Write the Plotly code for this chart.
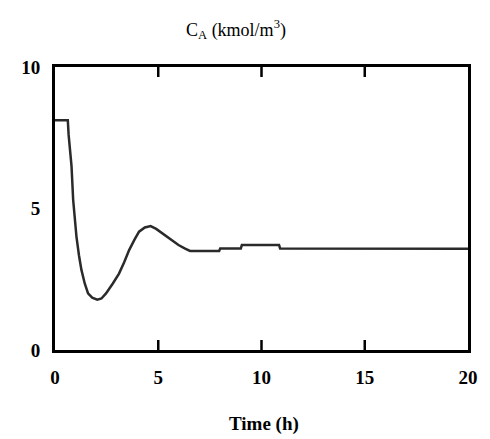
import plotly.graph_objects as go

time_h = [0, 0.62, 0.66, 0.74, 0.8, 0.88, 0.96, 1.04, 1.16, 1.28, 1.44, 1.6, 1.8, 2.05, 2.25, 2.47, 2.8, 3.1, 3.35, 3.59, 3.85, 4.07, 4.35, 4.63, 4.9, 5.18, 5.6, 5.98, 6.3, 6.54, 7.95, 8.0, 9.0, 9.05, 10.85, 10.9, 20]
ca = [8.12, 8.12, 7.6, 6.9, 6.5, 5.3, 4.6, 4.0, 3.35, 2.83, 2.35, 2.0, 1.85, 1.78, 1.82, 2.0, 2.35, 2.7, 3.1, 3.53, 3.9, 4.18, 4.33, 4.38, 4.28, 4.13, 3.92, 3.71, 3.58, 3.5, 3.5, 3.59, 3.59, 3.71, 3.71, 3.59, 3.58]

x_ticks = [0, 5, 10, 15, 20]
y_ticks = [0, 5, 10]

fig = go.Figure()
fig.add_trace(go.Scatter(x=time_h, y=ca, mode="lines",
                         line=dict(color="#2a2a2a", width=2.5), showlegend=False))

font = dict(family="Liberation Serif", color="black")

# inside tick marks on bottom and top edges, built from the tick list
y_lo, y_hi = y_ticks[0], y_ticks[-1]
tick_len = (y_hi - y_lo) * 10 / 283
tx, ty = [], []
for v in x_ticks[1:-1]:
    tx += [v, v, None, v, v, None]
    ty += [y_lo, y_lo + tick_len, None, y_hi - tick_len, y_hi, None]
fig.add_trace(go.Scatter(x=tx, y=ty, mode="lines", line=dict(color="black", width=2.5),
                         showlegend=False, hoverinfo="skip", cliponaxis=False))

fig.update_layout(
    width=490, height=439,
    margin=dict(l=55, r=17, t=67, b=89),
    plot_bgcolor="white", paper_bgcolor="white",
    font=font,
    xaxis=dict(range=[0, 20], tickmode="array", tickvals=x_ticks,
               ticktext=[f"<b>{v}</b>" for v in x_ticks], ticks="",
               showline=True, linewidth=3, linecolor="black", mirror=True,
               showgrid=False, zeroline=False, tickfont=dict(size=19, **font),
               ticklabelstandoff=8),
    yaxis=dict(range=[0, 10], tickmode="array", tickvals=y_ticks,
               ticktext=[f"<b>{v}</b>" for v in y_ticks],
               ticks="", showline=True, linewidth=3, linecolor="black", mirror=True,
               showgrid=False, zeroline=False, tickfont=dict(size=19, **font),
               ticklabelstandoff=8),
    annotations=[
        dict(text="C<sub>A</sub> (kmol/m<sup>3</sup>)", xref="paper", yref="paper",
             x=(238 - 55) / 418, y=1 + (67 - 30) / 283, xanchor="center", yanchor="middle",
             showarrow=False, font=dict(size=18, **font)),
        dict(text="<b>Time (h)</b>", xref="paper", yref="paper",
             x=(267 - 55) / 418, y=-(424 - 350) / 283, xanchor="center", yanchor="middle",
             showarrow=False, font=dict(size=19, **font)),
    ],
)

fig.write_html("out.html", config={"displayModeBar": False})
with open("out.html", encoding="utf-8") as f:
    html = f.read()
html = html.replace("<head>", "<head><style>html,body{margin:0;padding:0;}</style>", 1)
with open("out.html", "w", encoding="utf-8") as f:
    f.write(html)
